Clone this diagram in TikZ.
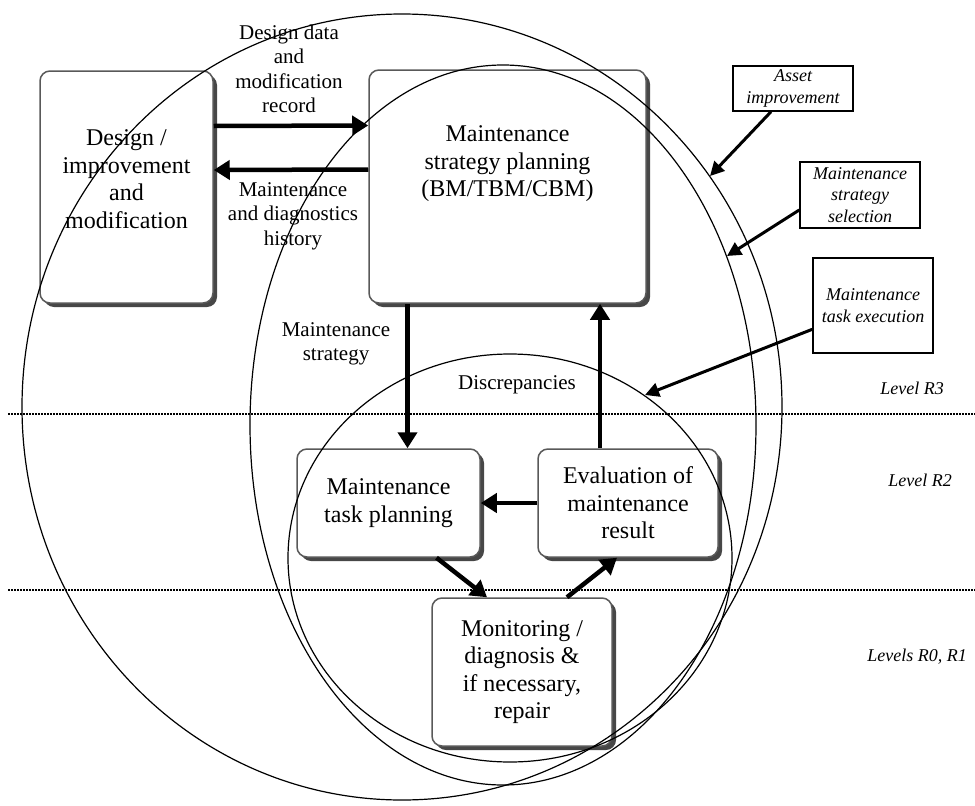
\documentclass[tikz,border=0pt]{standalone}
\usepackage{fontspec}
\setmainfont{Liberation Serif}
\usetikzlibrary{arrows.meta, shadows, calc}

\begin{document}
\begin{tikzpicture}[
            x=1pt, y=-1pt,
            >={Triangle[length=16pt,width=19pt]},
            procbox/.style={
				rectangle,
				rounded corners=10pt,
				align=center,
				draw=black!65,
				line width=1.5pt,
				fill=white,
				drop shadow={shadow xshift=4pt, shadow yshift=-4pt, fill=black!72, opacity=1},
				font=\fontsize{24}{27.5}\selectfont
			},
            boxtext/.style={
				align=center,
				font=\fontsize{24}{27.5}\selectfont
			},
            tagbox/.style={
				rectangle,
				align=center,
				draw=black,
				line width=1.5pt,
				fill=white,
				inner sep=1pt,
				font=\fontsize{18}{21.5}\selectfont\itshape
			},
            flowlabel/.style={
				align=center,
				font=\fontsize{21}{24.5}\selectfont
			},
            levellabel/.style={
				font=\fontsize{18}{21}\selectfont\itshape
			},
            arrow/.style={
				line width=4.5pt,
				->
			},
            tagarrow/.style={
				line width=3pt,
				-{Triangle[length=14pt,width=14pt]}
			},
            levelline/.style={
				line width=2.2pt,
				dash pattern=on 1.6pt off 1.4pt
			},
            zone/.style={
				line width=1.2pt
			}
        ]

        \useasboundingbox (0,0) rectangle (975,806);

        % main blocks
        \node (design) [procbox, minimum width=173pt, minimum height=232pt] at (126.5,187) {};
        \node (designtext) [boxtext] at (126.5,179) {Design /\\improvement\\and\\modification};
        \node (strategy) [procbox, minimum width=277pt, minimum height=233pt] at (507.5,186.5) {};
        \node (strategytext) [boxtext] at (507.5,164) {Maintenance\\strategy planning\\(BM/TBM/CBM)};
        \node (taskplan) [procbox, minimum width=183pt, minimum height=108pt] at (388.5,503) {Maintenance\\task planning};
        \node (evaluation) [procbox, minimum width=180pt, minimum height=108pt] at (628,503) {Evaluation of\\maintenance\\result};
        \node (monitoring) [procbox, minimum width=180pt, minimum height=148pt] at (522,672) {Monitoring /\\diagnosis \&\\if necessary,\\repair};

        % scope boxes
        \node (asset) [tagbox, minimum width=120pt, minimum height=45pt] at (793,88.5) {Asset\\improvement};
        \node (selection) [tagbox, minimum width=120pt, minimum height=66pt] at (860,195) {Maintenance\\strategy\\selection};
        \node (execution) [tagbox, minimum width=120pt, minimum height=95pt] at (873,305.5) {Maintenance\\task execution};

        % levels
        \draw [levelline] (8,414) -- (975,414);
        \draw [levelline] (8,590) -- (975,590);
        \node (levelRthree) [levellabel] at (912,388) {Level R3};
        \node (levelRtwo) [levellabel] at (920,480) {Level R2};
        \node (levelRzero) [levellabel] at (917,657) {Levels R0, R1};

        % scopes
        \coordinate (zoneA) at (402,407);
        \coordinate (zoneB) at (503,425);
        \coordinate (zoneC) at (510,558);
        \draw [zone] (zoneA) ellipse [x radius=380, y radius=393];
        \draw [zone] (zoneB) ellipse [x radius=253, y radius=360];
        \draw [zone] (zoneC) ellipse [x radius=222, y radius=204];

        \coordinate (tipA) at (710,176);
        \coordinate (tipB) at (727,256);
        \coordinate (tipC) at (645,395);

        \draw [tagarrow] (asset) -- (tipA);
        \draw [tagarrow] ([yshift=-15pt]selection.west) -- (tipB);
        \draw [tagarrow] (execution) -- (tipC);

        % flows
        \coordinate (s2t) at ([xshift=-100pt]strategy.south);
        \coordinate (e2s) at ([xshift=-28pt]evaluation.north);

        \draw [arrow] ([yshift=61pt]design.east) -- ([yshift=61pt]strategy.west);
        \draw [arrow] ([yshift=17pt]strategy.west) -- ([yshift=17pt]design.east);
        \draw [arrow] (s2t) -- (s2t |- taskplan.north);
        \draw [arrow] (e2s) -- (e2s |- strategy.south);
        \draw [arrow] (evaluation.west) -- (taskplan.east);
        \draw [arrow] ([xshift=48pt]taskplan.south) -- ([xshift=-35pt]monitoring.north);
        \draw [arrow] ([xshift=45pt]monitoring.north) -- ([xshift=-11pt]evaluation.south);

        \node (designdata) [flowlabel] at (289,69) {Design data\\and\\modification\\record};
        \node (history) [flowlabel] at (293,216) {Maintenance\\and diagnostics\\history};
        \node (strategylabel) [flowlabel] at (336,344) {Maintenance\\strategy};
        \node (discrepancies) [flowlabel] at (517,385) {Discrepancies};

        \end{tikzpicture}
\end{document}
